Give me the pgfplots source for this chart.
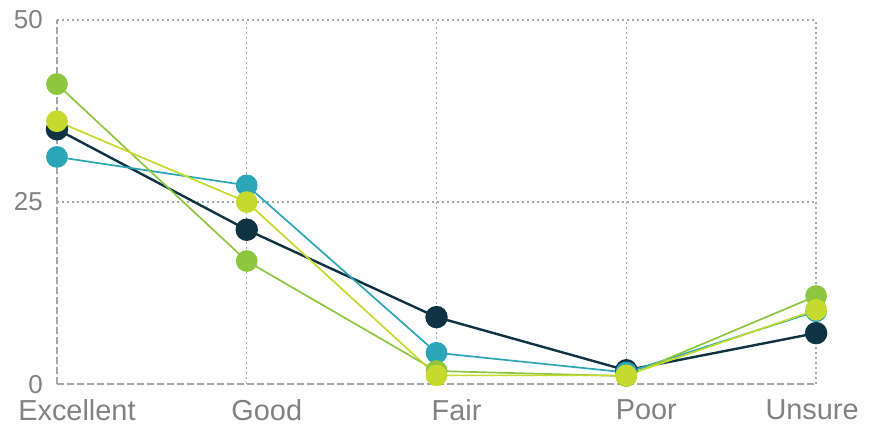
\documentclass[border=0pt]{standalone}
\usepackage{pgfplots}
\pgfplotsset{compat=1.18}
\usepackage{fontspec}
\setmainfont{Liberation Sans}
\definecolor{navy}{HTML}{0F3342}
\definecolor{teal}{HTML}{2AA6B6}
\definecolor{lgreen}{HTML}{8EC640}
\definecolor{ygreen}{HTML}{C6DA2E}
\definecolor{txt}{HTML}{828282}
\definecolor{gridc}{HTML}{A6A6A6}
\begin{document}
\begin{tikzpicture}
\begin{axis}[
  scale only axis, width=759bp, height=364bp,
  xmin=0, xmax=4, ymin=0, ymax=50,
  clip=false,
  axis line style={draw=none},
  xtick={0,1,2,3,4},
  xticklabels={Excellent,Good,Fair,Poor,\hspace*{-48bp}Unsure},
  ytick={0,25,50},
  major tick length=0pt,
  grid=major,
  major grid style={gridc, line width=1.4bp, dash pattern=on 2bp off 3bp},
  /pgf/number format/assume math mode=true,
  xticklabel style={font=\fontsize{29}{32}\selectfont, text=txt, inner sep=0pt, anchor=north, yshift=-15bp, xshift=20bp},
  yticklabel style={font=\fontsize{26}{30}\selectfont, text=txt, inner sep=0pt, anchor=east, xshift=-14bp},
]
\draw[gridc, line width=2.2bp, dash pattern=on 6bp off 4bp] (rel axis cs:0,0) -- (rel axis cs:1,0);
\draw[gridc, line width=2.2bp, dash pattern=on 6bp off 4bp] (rel axis cs:0,0) -- (rel axis cs:0,1);
\addplot[navy, line width=2.4bp, mark=*, mark size=10bp, mark options={solid, fill=navy, draw=navy}]
  coordinates {(0,35) (1,21.2) (2,9.2) (3,1.9) (4,7)};
\addplot[teal, line width=1.7bp, mark=*, mark size=10bp, mark options={solid, fill=teal, draw=teal}]
  coordinates {(0,31.2) (1,27.3) (2,4.3) (3,1.6) (4,10)};
\addplot[lgreen, line width=1.7bp, mark=*, mark size=10bp, mark options={solid, fill=lgreen, draw=lgreen}]
  coordinates {(0,41.2) (1,16.9) (2,1.8) (3,1.1) (4,12.1)};
\addplot[ygreen, line width=1.7bp, mark=*, mark size=10bp, mark options={solid, fill=ygreen, draw=ygreen}]
  coordinates {(0,36.1) (1,25) (2,1.2) (3,1.2) (4,10.2)};
\coordinate (bl) at (axis cs:-0.3,-6.32);
\coordinate (tr) at (axis cs:4.305,52.75);
\end{axis}
\pgfresetboundingbox
\useasboundingbox (bl) rectangle (tr);
\end{tikzpicture}
\end{document}
